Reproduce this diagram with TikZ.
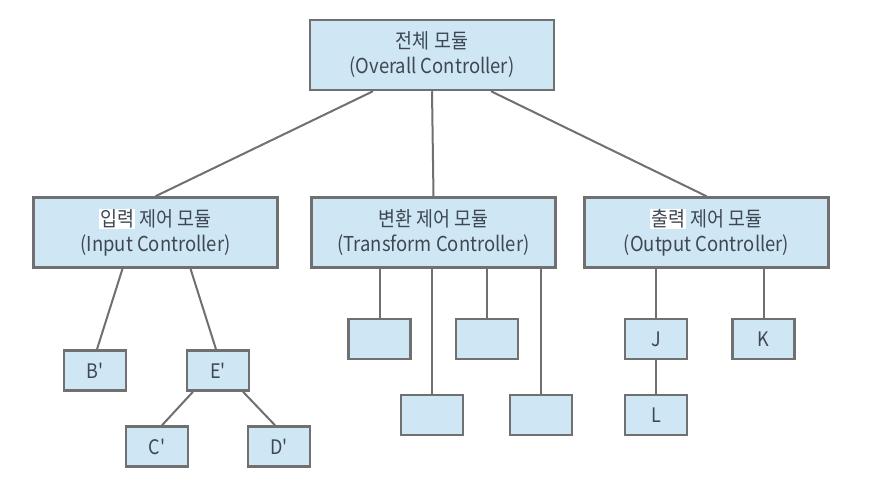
\documentclass[tikz,border=0pt]{standalone}
\usepackage{fontspec}
\setmainfont{Noto Sans CJK KR}[FakeStretch=0.9, Ligatures=TeXOff]
\definecolor{boxfill}{RGB}{207,230,245}
\definecolor{boxline}{RGB}{112,112,112}
\definecolor{txtgray}{RGB}{62,72,82}
\newcommand{\whitepatch}[1]{{\setlength{\fboxsep}{1pt}\colorbox{white}{#1}}}

\begin{document}
\begin{tikzpicture}[x=1pt,y=-1pt,
        modbox/.style={draw=boxline, line width=2.5pt, fill=boxfill, text=txtgray,
                minimum width=244pt, minimum height=70pt, align=center,
                font=\fontsize{20.5}{25}\selectfont},
        leaf/.style={draw=boxline, line width=2.5pt, fill=boxfill, text=txtgray,
                minimum width=62pt, minimum height=40pt,
                font=\fontsize{20}{23}\selectfont},
        link/.style={draw=boxline, line width=2pt}]
        \useasboundingbox[fill=white] (0,0) rectangle (875,494);

        % top level
        \node[modbox] (top) at (432,55) {전체 모듈\\(Overall Controller)};

        % second level
        \node[modbox] (inp) at (155.5,232.5) {\whitepatch{입력} 제어 모듈\\(Input Controller)};
        \node[modbox] (trf) at (433.5,232.5) {변환 제어 모듈\\(Transform Controller)};
        \node[modbox] (outp) at (706.5,232.5) {\whitepatch{출력} 제어 모듈\\(Output Controller)};

        % input side
        \node[leaf] (b) at (95,370.5) {B'};
        \node[leaf] (e) at (218,370.5) {E'};
        \node[leaf] (c) at (157,446.5) {C'};
        \node[leaf] (d) at (279,446.5) {D'};

        % transform side
        \node[leaf] (t1) at (379.5,339) {};
        \node[leaf] (t2) at (487,339) {};
        \node[leaf] (t3) at (432,415) {};
        \node[leaf] (t4) at (541,415) {};

        % output side
        \node[leaf] (j) at (656,339) {J};
        \node[leaf] (k) at (763.5,339) {K};
        \node[leaf] (l) at (656,415) {L};

        \draw[link] ([xshift=-59pt]top.south) -- (inp.north);
        \draw[link] (top.south) -- (trf.north);
        \draw[link] ([xshift=59pt]top.south) -- (outp.north);

        \draw[link] ([xshift=-33pt]inp.south) -- ([xshift=2pt]b.north);
        \draw[link] ([xshift=35pt]inp.south) -- ([xshift=-2pt]e.north);
        \draw[link] ([xshift=-25pt]e.south) -- ([xshift=5pt]c.north);
        \draw[link] ([xshift=25pt]e.south) -- ([xshift=-4pt]d.north);

        \draw[link] (t1 |- trf.south) -- (t1.north);
        \draw[link] (t2 |- trf.south) -- (t2.north);
        \draw[link] (t3 |- trf.south) -- (t3.north);
        \draw[link] (t4 |- trf.south) -- (t4.north);

        \draw[link] (j |- outp.south) -- (j.north);
        \draw[link] (k |- outp.south) -- (k.north);
        \draw[link] (j.south) -- (l.north);
\end{tikzpicture}
\end{document}
